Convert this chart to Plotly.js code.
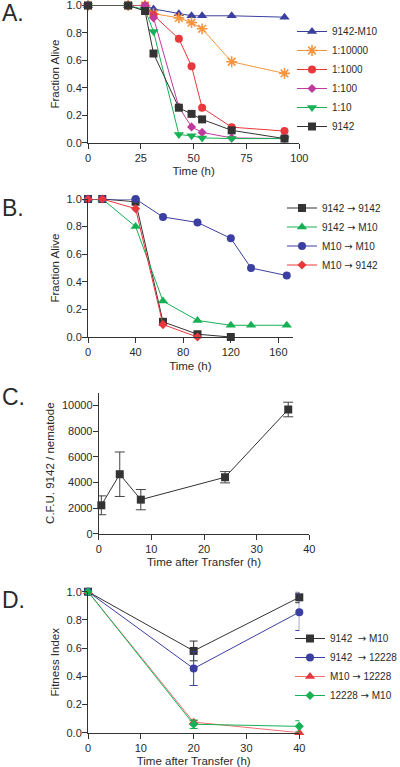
<!DOCTYPE html>
<html><head><meta charset="utf-8">
<script src="https://cdn.plot.ly/plotly-3.0.1.min.js"></script>
<style>html,body{margin:0;padding:0;background:#fff}#c{width:400px;height:767px}</style>
</head><body><div id="c"></div>
<script>
// Panel A
const timeA = [0, 19, 27, 31, 43, 49, 54, 68, 93];
const aM10 = [1, 1, 1, 0.975, 0.94, 0.925, 0.925, 0.925, 0.915];
const a10000 = [1, 1, 1, 0.94, 0.91, 0.875, 0.83, 0.59, 0.505];
const a1000 = [1, 1, 1, 0.93, 0.757, 0.558, 0.255, 0.113, 0.085];
const a100 = [1, 1, 1, 0.91, 0.26, 0.115, 0.075, 0.035, 0.03];
const a10 = [1, 1, 0.97, 0.81, 0.06, 0.05, 0.035, 0.03, 0.03];
const a9142 = [1, 1, 0.96, 0.65, 0.255, 0.21, 0.17, 0.09, 0.03];
const namesA = ["9142-M10", "1:10000", "1:1000", "1:100", "1:10", "9142"];
// Panel B
const ARROW = "<span style=\"font-family:'DejaVu Sans'\">\u2192</span>";
const timeB = [0, 12, 40, 63, 92, 120, 137, 167];
const b9142_9142 = [1, 1, 0.98, 0.11, 0.02, 0.0];
const b9142_M10 = [1, 1, 0.8, 0.26, 0.12, 0.085, 0.085, 0.085];
const bM10_M10 = [1, 1, 1.0, 0.87, 0.83, 0.715, 0.5, 0.445];
const bM10_9142 = [1, 1, 0.93, 0.09, 0.0];
const namesB = ["9142 " + ARROW + " 9142", "9142 " + ARROW + " M10", "M10 " + ARROW + " M10", "M10 " + ARROW + " 9142"];
// Panel C
const timeC = [0.5, 4, 8, 24, 36];
const cfu = [2215, 4640, 2655, 4405, 9690];
const cfuErr = [735, 1735, 790, 440, 570];
// Panel D
const timeD = [0, 20, 40];
const d9142_M10 = [1, 0.58, 0.96];
const d9142_M10err = [0, 0.07, 0.038];
const d9142_12228 = [1, 0.455, 0.855];
const d9142_12228err = [0, 0.12, 0.13];
const dM10_12228 = [1, 0.075, 0.0];
const dM10_12228err = [0, 0.012, 0];
const d12228_M10 = [1, 0.06, 0.045];
const d12228_M10err = [0, 0.03, 0.04];
const namesD = ["9142&nbsp; " + ARROW + " M10", "9142&nbsp; " + ARROW + " 12228", "M10 " + ARROW + " 12228", "12228 " + ARROW + " M10"];

const W = 400, H = 767;
const fx = p => p / W;
const fy = p => 1 - p / H;
const FONT = "Liberation Sans, Arial, sans-serif";
const TXT = "#2a2a2a";

const BLUE = "#3b3fa0", ORANGE = "#f7943c", RED = "#e8383c", PINK = "#c03a9e", GREEN = "#17b055", BLACK = "#333333";

function tr(x, y, name, color, symbol, size, ax, legend, extra) {
  const t = {
    type: "scatter", mode: "lines+markers", x: x, y: y, name: name,
    xaxis: "x" + ax, yaxis: "y" + ax, legend: legend, cliponaxis: false,
    line: {color: color, width: 1},
    marker: {color: color, symbol: symbol, size: size, line: {width: 0}}
  };
  return Object.assign(t, extra || {});
}

const data = [
  tr(timeA, aM10, namesA[0], BLUE, "triangle-up", 9, "", "legend"),
  tr(timeA, a10000, namesA[1], ORANGE, "asterisk-open", 9, "", "legend", {marker: {color: ORANGE, symbol: "asterisk-open", size: 9, line: {width: 1.6, color: ORANGE}}}),
  tr(timeA, a1000, namesA[2], RED, "circle", 8, "", "legend"),
  tr(timeA, a100, namesA[3], PINK, "diamond", 7, "", "legend"),
  tr(timeA, a10, namesA[4], GREEN, "triangle-down", 9, "", "legend"),
  tr(timeA, a9142, namesA[5], BLACK, "square", 8, "", "legend"),

  tr(timeB.slice(0, b9142_9142.length), b9142_9142, namesB[0], BLACK, "square", 8, "2", "legend2"),
  tr(timeB, b9142_M10, namesB[1], GREEN, "triangle-up", 9, "2", "legend2"),
  tr(timeB, bM10_M10, namesB[2], BLUE, "circle", 8, "2", "legend2"),
  tr(timeB.slice(0, bM10_9142.length), bM10_9142, namesB[3], RED, "diamond", 7, "2", "legend2"),

  tr(timeC, cfu, "C", BLACK, "square", 8, "3", "legend3", {showlegend: false,
    error_y: {type: "data", array: cfuErr, visible: true, color: "#444", thickness: 1, width: 5}}),

  tr(timeD, d9142_M10, namesD[0], BLACK, "square", 8, "4", "legend4",
    {error_y: {type: "data", array: d9142_M10err, visible: true, color: BLACK, thickness: 1, width: 4}}),
  tr(timeD, d9142_12228, namesD[1], BLUE, "circle", 8, "4", "legend4",
    {error_y: {type: "data", array: d9142_12228err, visible: true, color: BLUE, thickness: 1, width: 4}}),
  tr(timeD, dM10_12228, namesD[2], RED, "triangle-up", 9, "4", "legend4",
    {line: {color: "#f07070", width: 1}, error_y: {type: "data", array: dM10_12228err, visible: true, color: RED, thickness: 1, width: 4}}),
  tr(timeD, d12228_M10, namesD[3], GREEN, "diamond", 7, "4", "legend4",
    {error_y: {type: "data", array: d12228_M10err, visible: true, color: GREEN, thickness: 1, width: 4}})
];

function xax(d0, d1, range, dtick, title, anchor) {
  return {domain: [fx(d0), fx(d1)], range: range, dtick: dtick, tick0: 0, anchor: anchor,
    showline: true, linecolor: "#333", linewidth: 1, ticks: "outside", ticklen: 5, tickcolor: "#333",
    showgrid: false, zeroline: false, ticklabeloverflow: "allow", tickfont: {size: 11, color: TXT, family: FONT},
    title: {text: title, font: {size: 11.5, color: TXT, family: FONT}, standoff: 4}};
}
function yax(bot, top, range, dtick, title, anchor, fmt) {
  return {domain: [fy(bot), fy(top)], range: range, dtick: dtick, tick0: 0, anchor: anchor,
    showline: true, linecolor: "#333", linewidth: 1, ticks: "outside", ticklen: 5, tickcolor: "#333",
    showgrid: false, zeroline: false, ticklabeloverflow: "allow", ticklabelstandoff: -2, tickformat: fmt,
    tickfont: {size: 11, color: TXT, family: FONT},
    title: {text: title, font: {size: 11.5, color: TXT, family: FONT}, standoff: 4}};
}
function leg(x, y) {
  return {x: fx(x), y: fy(y), xanchor: "left", yanchor: "top", bgcolor: "rgba(0,0,0,0)",
    font: {size: 10, color: TXT, family: FONT}, tracegroupgap: 0};
}

const layout = {
  width: W, height: H, margin: {l: 0, r: 0, t: 0, b: 0, autoexpand: false},
  paper_bgcolor: "#fff", plot_bgcolor: "#fff", font: {family: FONT, color: TXT},
  xaxis: xax(88, 299.3, [0, 100], 25, "Time (h)", "y"),
  yaxis: yax(142.7, 5.5, [0, 1], 0.2, "Fraction Alive", "x", ".1f"),
  xaxis2: xax(88, 292.7, [0, 172], 40, "Time (h)", "y2"),
  yaxis2: yax(337, 199, [0, 1], 0.2, "Fraction Alive", "x2", ".1f"),
  xaxis3: xax(98.7, 309.3, [0, 40], 10, "Time after Transfer (h)", "y3"),
  yaxis3: yax(533.7, 392.7, [0, 11000], 2000, "C.F.U. 9142 / nematode", "x3", "d"),
  xaxis4: xax(88, 299.3, [0, 40], 10, "Time after Transfer (h)", "y4"),
  yaxis4: yax(732.7, 591.7, [0, 1], 0.2, "Fitness Index", "x4", ".1f"),
  legend: leg(292, 17),
  legend2: leg(282, 193.5),
  legend4: leg(290, 624),
  showlegend: true,
  annotations: [
    {text: "A.", x: 0, y: fy(13)},
    {text: "B.", x: 0, y: fy(208)},
    {text: "C.", x: 0, y: fy(397)},
    {text: "D.", x: 0, y: fy(600)}
  ].map(a => Object.assign(a, {xref: "paper", yref: "paper", xanchor: "left", yanchor: "middle",
    showarrow: false, font: {size: 23, color: TXT, family: FONT}}))
};

Plotly.newPlot("c", data, layout, {displayModeBar: false, staticPlot: true});
</script>
</body></html>
